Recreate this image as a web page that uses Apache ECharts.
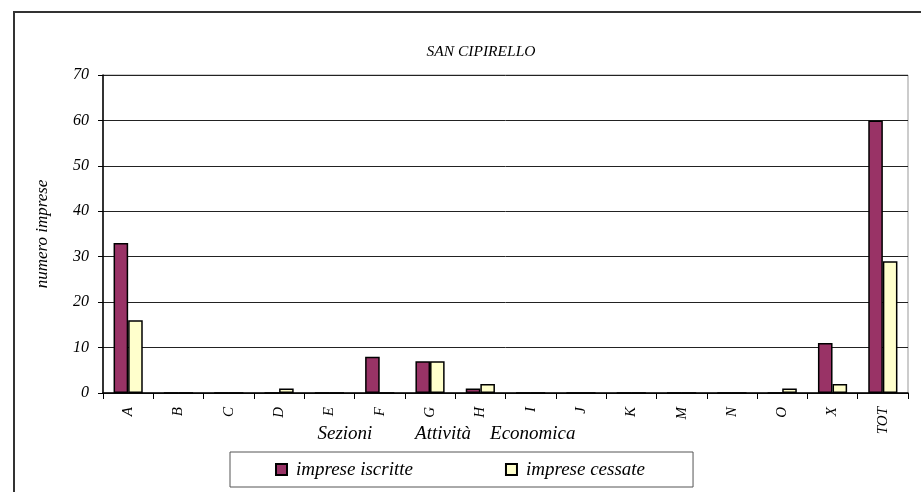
<!DOCTYPE html>
<html><head><meta charset="utf-8">
<script src="https://cdn.jsdelivr.net/npm/echarts@6/dist/echarts.min.js"></script>
<style>html,body{margin:0;padding:0;background:#fff}#c{width:921px;height:492px}</style>
</head><body><div id="c"></div>
<script>
const categories = ['A','B','C','D','E','F','G','H','I','J','K','M','N','O','X','TOT'];
const iscritte = [33,0,0,0,0,8,7,1,0,0,0,0,0,0,11,60];
const cessate = [16,0,0,1,0,0,7,2,0,0,0,0,0,1,2,29];
const yTicks = {min:0, max:70, interval:10};
const FONT = '"Liberation Serif", "DejaVu Serif", serif';
const chart = echarts.init(document.getElementById('c'), null, {renderer:'canvas'});
chart.setOption({
  animation:false,
  textStyle:{fontFamily:FONT},
  title:{text:'SAN CIPIRELLO', left:476, top:39, textAlign:'center',
    textStyle:{fontFamily:FONT, fontStyle:'italic', fontWeight:'normal', fontSize:15.5, color:'#000'}},
  graphic:[{type:'rect', shape:{x:14,y:12,width:920,height:490}, style:{fill:'none', stroke:'#333', lineWidth:2}, silent:true}],
  legend:{left:230, top:452, itemWidth:11, itemHeight:11, itemGap:92, icon:'rect',
    padding:[8,48,8,45], borderColor:'#555', borderWidth:1, backgroundColor:'#fff',
    textStyle:{fontFamily:FONT, fontStyle:'italic', fontSize:19, color:'#000', padding:[0,0,0,4]},
    data:['imprese iscritte','imprese cessate']},
  grid:{left:103, right:13, top:75, bottom:99, show:true, borderColor:'#999', borderWidth:1},
  xAxis:{type:'category', data:categories,
    axisLine:{lineStyle:{color:'#000', width:1.5}},
    axisTick:{show:true, length:6, lineStyle:{color:'#000'}},
    axisLabel:{rotate:90, fontFamily:FONT, fontStyle:'italic', fontSize:15, color:'#000', margin:14},
    name:'Sezioni         Attività    Economica', nameLocation:'middle', nameGap:31, nameMoveOverlap:false,
    nameTextStyle:{fontFamily:FONT, fontStyle:'italic', fontSize:19, color:'#000', padding:[0,118,0,0]}},
  yAxis:{type:'value', min:yTicks.min, max:yTicks.max, interval:yTicks.interval,
    axisLine:{show:true, lineStyle:{color:'#000', width:1.5}},
    axisTick:{show:true, length:5, lineStyle:{color:'#000'}},
    splitLine:{lineStyle:{color:'#222', width:1}},
    axisLabel:{fontFamily:FONT, fontStyle:'italic', fontSize:16, color:'#000', margin:14},
    name:'numero imprese', nameLocation:'middle', nameGap:52,
    nameTextStyle:{fontFamily:FONT, fontStyle:'italic', fontSize:17, color:'#000'}},
  series:[
    {name:'imprese iscritte', type:'bar', data:iscritte, barGap:'0%', barCategoryGap:'42%',
     itemStyle:{color:'#993366', borderColor:'#000', borderWidth:1.5}},
    {name:'imprese cessate', type:'bar', data:cessate, barGap:'0%', barCategoryGap:'42%',
     itemStyle:{color:'#FFFFCC', borderColor:'#000', borderWidth:1.5}}
  ]
});
</script></body></html>
